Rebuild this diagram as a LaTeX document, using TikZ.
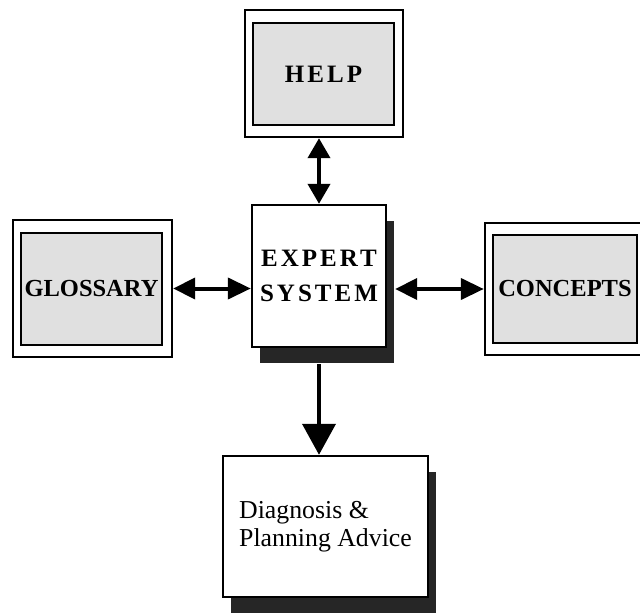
\documentclass[tikz,border=0pt]{standalone}
\usepackage{fontspec}
\setmainfont{Liberation Serif}
\newfontfamily\spacedfont[LetterSpace=12]{Liberation Serif}
\usetikzlibrary{arrows.meta}
\usetikzlibrary{shadows}

\begin{document}
\begin{tikzpicture}[x=1pt,y=-1pt,
  frame/.style={draw,line width=2.4pt,inner sep=0pt},
  panel/.style={draw,line width=2.6pt,fill=black!12,inner sep=0pt},
  plainbox/.style={draw,line width=2.4pt,fill=white,inner sep=0pt,general shadow={fill=black!85,shadow xshift=8pt,shadow yshift=-16pt}},
  bigcaps/.style={font=\spacedfont\bfseries\fontsize{25}{35}\selectfont},
  caps/.style={font=\bfseries\fontsize{24.5}{30}\selectfont},
  link/.style={line width=4pt,{Triangle[length=20pt,width=22pt]}-{Triangle[length=20pt,width=22pt]}}]
  \useasboundingbox (0,0) rectangle (640,613);

  %help
  \node[frame,minimum width=158pt,minimum height=127pt] (help frame) at (324,73.5) {};
  \node[panel,bigcaps,minimum width=141pt,minimum height=102pt] (help) at (323.5,74) {HELP};

  %glossary
  \node[frame,minimum width=159pt,minimum height=137pt] (gloss frame) at (92.5,288.5) {};
  \node[panel,caps,minimum width=141pt,minimum height=112pt] (gloss) at (91.5,289) {GLOSSARY};

  %concepts
  \node[frame,minimum width=163pt,minimum height=132pt] (concepts frame) at (566.5,289) {};
  \node[panel,caps,minimum width=144pt,minimum height=108pt] (concepts) at (565,289) {CONCEPTS};

  %expert system
  \node[plainbox,bigcaps,align=center,minimum width=134pt,minimum height=142pt] (expert) at (319,276) {EXPERT\\SYSTEM};

  %advice
  \node[plainbox,align=left,font=\fontsize{25.8}{28}\selectfont,minimum width=205pt,minimum height=141pt] (advice) at (325.5,526.5) {Diagnosis \&\\Planning Advice};

  %links
  \draw[link] (help frame.south -| expert.north) -- (expert.north);
  \draw[link,{Triangle[length=22pt,width=21pt]}-{Triangle[length=23pt,width=21pt]}] (gloss frame.east) -- (gloss frame.east -| expert.west);
  \draw[link,{Triangle[length=22pt,width=21pt]}-{Triangle[length=23pt,width=21pt]}] ([xshift=8pt]expert.east |- concepts frame.west) -- (concepts frame.west);
  \draw[line width=4pt,-{Triangle[length=31pt,width=33pt]}] ([yshift=-16pt]expert.south) -- (expert.south |- advice.north);
\end{tikzpicture}
\end{document}
